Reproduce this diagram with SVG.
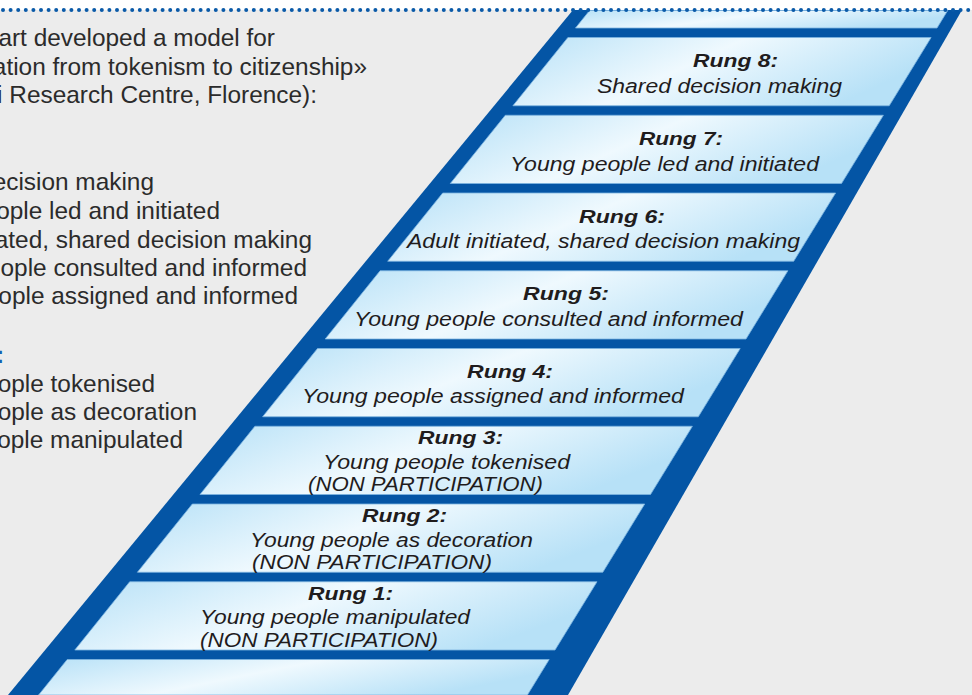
<svg xmlns="http://www.w3.org/2000/svg" width="972" height="695" viewBox="0 0 972 695">
<defs>
<linearGradient id="lg" x1="0" y1="0" x2="1" y2="0.35">
<stop offset="0" stop-color="#b7e1f7"/>
<stop offset="0.5" stop-color="#eff9fe"/>
<stop offset="1" stop-color="#b7e1f7"/>
</linearGradient>
<style>
.side{font-family:"Liberation Sans",Arial,sans-serif;font-size:24.4px;fill:#2b2b2b;text-anchor:end}
.light{fill:url(#lg);stroke:#7cb4e0;stroke-width:0.8}
.t{font-family:"Liberation Sans",Arial,sans-serif;font-size:19px;font-weight:bold;font-style:italic;fill:#1f1c1d}
.b{font-family:"Liberation Sans",Arial,sans-serif;font-size:20px;font-style:italic;fill:#1f1c1d}
</style>
</defs>
<rect x="0" y="0" width="972" height="695" fill="#ececec"/>
<rect x="0" y="0" width="972" height="10" fill="#ffffff"/>
<g id="side-text">
<text class="side" x="275" y="46">art developed a model for</text>
<text class="side" x="367" y="75">ation from tokenism to citizenship»</text>
<text class="side" x="317" y="103">i Research Centre, Florence):</text>
<text class="side" x="154" y="190">ecision making</text>
<text class="side" x="220" y="219">ople led and initiated</text>
<text class="side" x="312" y="248">ated, shared decision making</text>
<text class="side" x="307" y="276">ople consulted and informed</text>
<text class="side" x="298" y="304">ople assigned and informed</text>
<text class="side" x="4" y="363" style="fill:#1560b0;font-weight:bold">:</text>
<text class="side" x="155" y="392">ople tokenised</text>
<text class="side" x="197" y="420">ople as decoration</text>
<text class="side" x="183" y="448">ople manipulated</text>
</g>
<g id="ladder-frame">
<polygon points="573,10 962,10 568,695 8,695" fill="#0455a5"/>
<polygon class="light" points="589.6,10.5 947.7,10.5 937,28 575.5,28"/>
<polygon class="light" points="67.2,659.5 549.2,659.5 527.4,695 38.6,695"/>
</g>
<g id="rung-8">
<polygon class="light" points="567.9,37.5 931.1,37.5 889.2,105.75 512.9,105.75"/>
<text class="t" x="693" y="67" textLength="85" lengthAdjust="spacingAndGlyphs">Rung 8:</text>
<text class="b" x="597" y="93" textLength="245" lengthAdjust="spacingAndGlyphs">Shared decision making</text>
</g>
<g id="rung-7">
<polygon class="light" points="505.3,115.25 883.4,115.25 841.5,183.5 450.3,183.5"/>
<text class="t" x="639" y="145" textLength="84" lengthAdjust="spacingAndGlyphs">Rung 7:</text>
<text class="b" x="510" y="171" textLength="309" lengthAdjust="spacingAndGlyphs">Young people led and initiated</text>
</g>
<g id="rung-6">
<polygon class="light" points="442.7,193 835.6,193 793.7,261.25 387.7,261.25"/>
<text class="t" x="579" y="223" textLength="86" lengthAdjust="spacingAndGlyphs">Rung 6:</text>
<text class="b" x="407" y="248" textLength="393" lengthAdjust="spacingAndGlyphs">Adult initiated, shared decision making</text>
</g>
<g id="rung-5">
<polygon class="light" points="380.1,270.75 787.9,270.75 746,339 325.2,339"/>
<text class="t" x="523" y="300" textLength="86" lengthAdjust="spacingAndGlyphs">Rung 5:</text>
<text class="b" x="354" y="326" textLength="389" lengthAdjust="spacingAndGlyphs">Young people consulted and informed</text>
</g>
<g id="rung-4">
<polygon class="light" points="317.5,348.5 740.2,348.5 698.3,416.75 262.6,416.75"/>
<text class="t" x="467" y="378" textLength="86" lengthAdjust="spacingAndGlyphs">Rung 4:</text>
<text class="b" x="302" y="403" textLength="382" lengthAdjust="spacingAndGlyphs">Young people assigned and informed</text>
</g>
<g id="rung-3">
<polygon class="light" points="254.9,426.25 692.4,426.25 650.5,494.5 200,494.5"/>
<text class="t" x="418" y="444" textLength="85" lengthAdjust="spacingAndGlyphs">Rung 3:</text>
<text class="b" x="323" y="469" textLength="247" lengthAdjust="spacingAndGlyphs">Young people tokenised</text>
<text class="b" x="308" y="491" textLength="235" lengthAdjust="spacingAndGlyphs">(NON PARTICIPATION)</text>
</g>
<g id="rung-2">
<polygon class="light" points="192.3,504 644.7,504 602.8,572.25 137.4,572.25"/>
<text class="t" x="362" y="522" textLength="85" lengthAdjust="spacingAndGlyphs">Rung 2:</text>
<text class="b" x="250" y="547" textLength="283" lengthAdjust="spacingAndGlyphs">Young people as decoration</text>
<text class="b" x="252" y="569" textLength="240" lengthAdjust="spacingAndGlyphs">(NON PARTICIPATION)</text>
</g>
<g id="rung-1">
<polygon class="light" points="129.7,581.75 597,581.75 555,650 74.8,650"/>
<text class="t" x="308" y="600" textLength="85" lengthAdjust="spacingAndGlyphs">Rung 1:</text>
<text class="b" x="200" y="624" textLength="270" lengthAdjust="spacingAndGlyphs">Young people manipulated</text>
<text class="b" x="200" y="647" textLength="238" lengthAdjust="spacingAndGlyphs">(NON PARTICIPATION)</text>
</g>
<g id="connectors"></g>
<line x1="3" y1="10" x2="972" y2="10" stroke="#0a5aa8" stroke-width="4" stroke-linecap="round" stroke-dasharray="0 7.6"/>
</svg>
